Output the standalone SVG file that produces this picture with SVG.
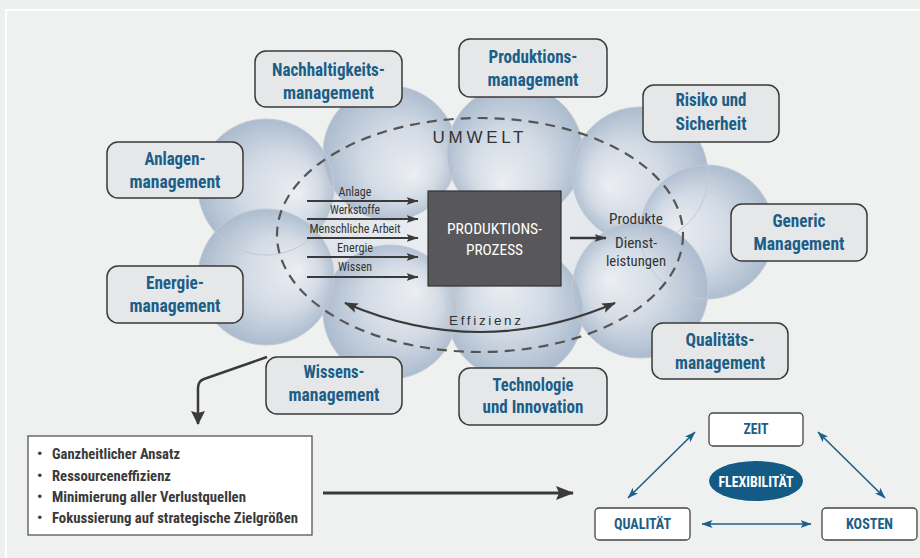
<svg xmlns="http://www.w3.org/2000/svg" width="920" height="558" viewBox="0 0 920 558">
<defs>
<style>
.f{font-family:"Liberation Sans Narrow","Roboto Condensed","DejaVu Sans Condensed","Liberation Sans",sans-serif;font-stretch:condensed}
.node rect{fill:#e6e7e9;stroke:#3a3a3a;stroke-width:1.5}
.nt{font-size:18px;font-weight:bold;fill:#1b5e87;text-anchor:middle}
.in{font-size:13px;fill:#333;text-anchor:middle}
.lst{font-size:15px;fill:#3a3a3a;font-weight:bold}
.tri{font-size:15px;font-weight:bold;fill:#1b5e87;text-anchor:middle}
.tb rect{fill:#fff;stroke:#444;stroke-width:1.3}
.cs{fill:none;stroke:#c6cad0;stroke-width:1}
.dk{stroke:#3a3a3a;fill:none}
.bl{stroke:#1d5f89;stroke-width:1.6;fill:none}
</style>
<marker id="ah" viewBox="0 0 12 8" refX="11.5" refY="4" markerWidth="12" markerHeight="8" markerUnits="userSpaceOnUse" orient="auto-start-reverse"><path d="M0,0 L12,4 L0,8 L2.5,4 z" fill="#3a3a3a"/></marker>
<marker id="ahE" viewBox="0 0 14 10" refX="13" refY="5" markerWidth="14" markerHeight="10" markerUnits="userSpaceOnUse" orient="auto-start-reverse"><path d="M0,0 L14,5 L0,10 L3,5 z" fill="#3a3a3a"/></marker>
<marker id="ahB" viewBox="0 0 18 14" refX="17" refY="7" markerWidth="18" markerHeight="14" markerUnits="userSpaceOnUse" orient="auto"><path d="M0,0 L18,7 L0,14 L3,7 z" fill="#3a3a3a"/></marker>
<marker id="ahD" viewBox="0 0 14 14" refX="13" refY="7" markerWidth="14" markerHeight="14" markerUnits="userSpaceOnUse" orient="auto"><path d="M0,0 L14,7 L0,14 L2,7 z" fill="#3a3a3a"/></marker>
<marker id="ahBl" viewBox="0 0 11 8" refX="10.5" refY="4" markerWidth="11" markerHeight="8" markerUnits="userSpaceOnUse" orient="auto-start-reverse"><path d="M0,0 L11,4 L0,8 L2.5,4 z" fill="#1d5f89"/></marker>
<radialGradient id="gc" cx="480" cy="232" r="185" gradientUnits="userSpaceOnUse"><stop offset="0" stop-color="#eff1f4"/><stop offset="1" stop-color="#dce2e9"/></radialGradient>
<radialGradient id="g1" gradientUnits="userSpaceOnUse" cx="266" cy="187" r="74" fx="299" fy="194"><stop offset="0" stop-color="#eceff3"/><stop offset="0.5" stop-color="#d3dbe5"/><stop offset="1" stop-color="#a5b7cb"/></radialGradient>
<radialGradient id="g2" gradientUnits="userSpaceOnUse" cx="390" cy="153" r="74" fx="415" fy="176"><stop offset="0" stop-color="#eceff3"/><stop offset="0.5" stop-color="#d3dbe5"/><stop offset="1" stop-color="#a5b7cb"/></radialGradient>
<radialGradient id="g3" gradientUnits="userSpaceOnUse" cx="515" cy="153" r="74" fx="501" fy="184"><stop offset="0" stop-color="#eceff3"/><stop offset="0.5" stop-color="#d3dbe5"/><stop offset="1" stop-color="#a5b7cb"/></radialGradient>
<radialGradient id="g4" gradientUnits="userSpaceOnUse" cx="640" cy="175" r="74" fx="608" fy="187"><stop offset="0" stop-color="#eceff3"/><stop offset="0.5" stop-color="#d3dbe5"/><stop offset="1" stop-color="#a5b7cb"/></radialGradient>
<radialGradient id="g5" gradientUnits="userSpaceOnUse" cx="707" cy="232" r="74" fx="673" fy="232"><stop offset="0" stop-color="#eceff3"/><stop offset="0.5" stop-color="#d3dbe5"/><stop offset="1" stop-color="#a5b7cb"/></radialGradient>
<radialGradient id="g6" gradientUnits="userSpaceOnUse" cx="640" cy="290" r="74" fx="608" fy="279"><stop offset="0" stop-color="#eceff3"/><stop offset="0.5" stop-color="#d3dbe5"/><stop offset="1" stop-color="#a5b7cb"/></radialGradient>
<radialGradient id="g7" gradientUnits="userSpaceOnUse" cx="515" cy="312" r="74" fx="501" fy="281"><stop offset="0" stop-color="#eceff3"/><stop offset="0.5" stop-color="#d3dbe5"/><stop offset="1" stop-color="#a5b7cb"/></radialGradient>
<radialGradient id="g8" gradientUnits="userSpaceOnUse" cx="390" cy="312" r="74" fx="416" fy="290"><stop offset="0" stop-color="#eceff3"/><stop offset="0.5" stop-color="#d3dbe5"/><stop offset="1" stop-color="#a5b7cb"/></radialGradient>
<radialGradient id="g9" gradientUnits="userSpaceOnUse" cx="266" cy="277" r="74" fx="299" fy="270"><stop offset="0" stop-color="#eceff3"/><stop offset="0.5" stop-color="#d3dbe5"/><stop offset="1" stop-color="#a5b7cb"/></radialGradient>
</defs>

<rect x="0" y="0" width="920" height="558" fill="#eef0ef"/>
<rect x="6" y="10" width="1000" height="1000" fill="#eff1f0" stroke="#ffffff" stroke-width="2"/>

<g id="cloud">
<ellipse cx="480" cy="232" rx="180" ry="70" fill="url(#gc)"/>
<circle cx="266" cy="187" r="68" fill="url(#g1)"/>
<circle cx="390" cy="153" r="67" fill="url(#g2)"/>
<circle cx="515" cy="153" r="68" fill="url(#g3)"/>
<circle cx="640" cy="175" r="68" fill="url(#g4)"/>
<circle cx="707" cy="232" r="67" fill="url(#g5)"/>
<circle cx="640" cy="290" r="68" fill="url(#g6)"/>
<circle cx="515" cy="312" r="68" fill="url(#g7)"/>
<circle cx="390" cy="312" r="67" fill="url(#g8)"/>
<circle cx="266" cy="277" r="68" fill="url(#g9)"/>
<circle class="cs" cx="266" cy="187" r="68"/>
<circle class="cs" cx="390" cy="153" r="67"/>
<circle class="cs" cx="515" cy="153" r="68"/>
<circle class="cs" cx="640" cy="175" r="68"/>
<circle class="cs" cx="707" cy="232" r="67"/>
<circle class="cs" cx="640" cy="290" r="68"/>
<circle class="cs" cx="515" cy="312" r="68"/>
<circle class="cs" cx="390" cy="312" r="67"/>
<circle class="cs" cx="266" cy="277" r="68"/>
</g>

<g id="umwelt">
<ellipse cx="480" cy="235" rx="203" ry="117" fill="none" stroke="#555" stroke-width="2.2" stroke-dasharray="10 7"/>
<text x="478" y="143" font-family="Liberation Sans, Arial, sans-serif" font-size="17" fill="#333" text-anchor="middle" textLength="91" lengthAdjust="spacing">UMWELT</text>
<text x="485" y="325" font-family="Liberation Sans, Arial, sans-serif" font-size="13.5" fill="#333" text-anchor="middle" textLength="72" lengthAdjust="spacing">Effizienz</text>
</g>

<g id="connectors">
<line class="dk" x1="307" y1="201" x2="418" y2="201" stroke-width="2" marker-end="url(#ah)"/>
<line class="dk" x1="307" y1="219" x2="418" y2="219" stroke-width="2" marker-end="url(#ah)"/>
<line class="dk" x1="307" y1="238" x2="418" y2="238" stroke-width="2" marker-end="url(#ah)"/>
<line class="dk" x1="307" y1="257" x2="418" y2="257" stroke-width="2" marker-end="url(#ah)"/>
<line class="dk" x1="307" y1="277" x2="418" y2="277" stroke-width="2" marker-end="url(#ah)"/>
<line class="dk" x1="570" y1="238" x2="606" y2="238" stroke-width="2.6" marker-end="url(#ah)"/>
<path class="dk" d="M345 303 Q480 361 615 303" stroke-width="2.2" marker-start="url(#ahE)" marker-end="url(#ahE)"/>
<path class="dk" d="M267 357 L204 379 Q198 381 198 388 L198 424" stroke-width="2.5" marker-end="url(#ahD)"/>
<line class="dk" x1="323" y1="493" x2="573" y2="493" stroke-width="3" marker-end="url(#ahB)"/>
<line class="bl" x1="695" y1="432" x2="628" y2="498" marker-start="url(#ahBl)" marker-end="url(#ahBl)"/>
<line class="bl" x1="818" y1="432" x2="885" y2="498" marker-start="url(#ahBl)" marker-end="url(#ahBl)"/>
<line class="bl" x1="702" y1="524" x2="811" y2="524" marker-start="url(#ahBl)" marker-end="url(#ahBl)"/>
</g>

<g id="inputs" class="f">
<text class="in" x="355" y="195.5" textLength="33" lengthAdjust="spacingAndGlyphs">Anlage</text>
<text class="in" x="355" y="213.5" textLength="50" lengthAdjust="spacingAndGlyphs">Werkstoffe</text>
<text class="in" x="355" y="232.5" textLength="91" lengthAdjust="spacingAndGlyphs">Menschliche Arbeit</text>
<text class="in" x="355" y="251.5" textLength="36" lengthAdjust="spacingAndGlyphs">Energie</text>
<text class="in" x="355" y="271" textLength="34" lengthAdjust="spacingAndGlyphs">Wissen</text>
</g>

<g id="prozess" class="f">
<rect x="428" y="191" width="133" height="95" fill="#58585a" stroke="#333" stroke-width="1.2"/>
<text x="494.5" y="234" font-size="15" fill="#fff" text-anchor="middle" textLength="95" lengthAdjust="spacingAndGlyphs">PRODUKTIONS-</text>
<text x="494.5" y="255" font-size="15" fill="#fff" text-anchor="middle" textLength="57" lengthAdjust="spacingAndGlyphs">PROZESS</text>
</g>

<g id="output" class="f" font-size="14.5" fill="#333" text-anchor="middle">
<text x="636" y="224" textLength="54" lengthAdjust="spacingAndGlyphs">Produkte</text>
<text x="636" y="248" textLength="42" lengthAdjust="spacingAndGlyphs">Dienst-</text>
<text x="636" y="266" textLength="60" lengthAdjust="spacingAndGlyphs">leistungen</text>
</g>

<g id="n-nachhaltigkeit" class="node f">
<rect x="255" y="51" width="147" height="56" rx="11"/>
<text class="nt" x="328.5" y="76" textLength="113" lengthAdjust="spacingAndGlyphs">Nachhaltigkeits-</text>
<text class="nt" x="328.5" y="99" textLength="91" lengthAdjust="spacingAndGlyphs">management</text>
</g>
<g id="n-produktion" class="node f">
<rect x="459" y="39" width="148" height="58" rx="11"/>
<text class="nt" x="533" y="63" textLength="89" lengthAdjust="spacingAndGlyphs">Produktions-</text>
<text class="nt" x="533" y="86" textLength="91" lengthAdjust="spacingAndGlyphs">management</text>
</g>
<g id="n-risiko" class="node f">
<rect x="643" y="85" width="136" height="57" rx="11"/>
<text class="nt" x="711" y="106" textLength="71" lengthAdjust="spacingAndGlyphs">Risiko und</text>
<text class="nt" x="711" y="130" textLength="71" lengthAdjust="spacingAndGlyphs">Sicherheit</text>
</g>
<g id="n-anlagen" class="node f">
<rect x="107" y="142" width="136" height="56" rx="11"/>
<text class="nt" x="175" y="165" textLength="61" lengthAdjust="spacingAndGlyphs">Anlagen-</text>
<text class="nt" x="175" y="188" textLength="91" lengthAdjust="spacingAndGlyphs">management</text>
</g>
<g id="n-generic" class="node f">
<rect x="731" y="204" width="136" height="57" rx="11"/>
<text class="nt" x="799" y="227" textLength="53" lengthAdjust="spacingAndGlyphs">Generic</text>
<text class="nt" x="799" y="250" textLength="91" lengthAdjust="spacingAndGlyphs">Management</text>
</g>
<g id="n-energie" class="node f">
<rect x="107" y="266" width="136" height="57" rx="11"/>
<text class="nt" x="175" y="289" textLength="58" lengthAdjust="spacingAndGlyphs">Energie-</text>
<text class="nt" x="175" y="312" textLength="91" lengthAdjust="spacingAndGlyphs">management</text>
</g>
<g id="n-wissen" class="node f">
<rect x="266" y="357" width="136" height="57" rx="11"/>
<text class="nt" x="334" y="378" textLength="61" lengthAdjust="spacingAndGlyphs">Wissens-</text>
<text class="nt" x="334" y="401" textLength="91" lengthAdjust="spacingAndGlyphs">management</text>
</g>
<g id="n-qualitaet" class="node f">
<rect x="652" y="323" width="136" height="56" rx="11"/>
<text class="nt" x="720" y="346" textLength="69" lengthAdjust="spacingAndGlyphs">Qualitäts-</text>
<text class="nt" x="720" y="369" textLength="90" lengthAdjust="spacingAndGlyphs">management</text>
</g>
<g id="n-technologie" class="node f">
<rect x="459" y="368" width="148" height="57" rx="11"/>
<text class="nt" x="533" y="391" textLength="81" lengthAdjust="spacingAndGlyphs">Technologie</text>
<text class="nt" x="533" y="413" textLength="101" lengthAdjust="spacingAndGlyphs">und Innovation</text>
</g>

<g id="liste" class="f">
<rect x="28" y="436" width="284" height="99" fill="#fff" stroke="#555" stroke-width="1.3"/>
<text class="lst" x="37" y="459">•</text>
<text class="lst" x="52" y="459" textLength="128" lengthAdjust="spacingAndGlyphs">Ganzheitlicher Ansatz</text>
<text class="lst" x="37" y="481">•</text>
<text class="lst" x="52" y="481" textLength="119" lengthAdjust="spacingAndGlyphs">Ressourceneffizienz</text>
<text class="lst" x="37" y="502">•</text>
<text class="lst" x="52" y="502" textLength="194" lengthAdjust="spacingAndGlyphs">Minimierung aller Verlustquellen</text>
<text class="lst" x="37" y="523">•</text>
<text class="lst" x="52" y="523" textLength="246" lengthAdjust="spacingAndGlyphs">Fokussierung auf strategische Zielgrößen</text>
</g>

<g id="t-zeit" class="tb f">
<rect x="709" y="413" width="94" height="33" rx="4"/>
<text class="tri" x="756" y="434" textLength="25" lengthAdjust="spacingAndGlyphs">ZEIT</text>
</g>
<g id="t-qualitaet" class="tb f">
<rect x="595" y="508" width="95" height="32" rx="4"/>
<text class="tri" x="642.5" y="529" textLength="57" lengthAdjust="spacingAndGlyphs">QUALITÄT</text>
</g>
<g id="t-kosten" class="tb f">
<rect x="822" y="508" width="95" height="32" rx="4"/>
<text class="tri" x="869.5" y="529" textLength="47" lengthAdjust="spacingAndGlyphs">KOSTEN</text>
</g>
<g id="t-flex" class="f">
<ellipse cx="756" cy="481" rx="47" ry="20" fill="#135b84"/>
<text x="756" y="487" font-size="15" font-weight="bold" fill="#fff" text-anchor="middle" textLength="75" lengthAdjust="spacingAndGlyphs">FLEXIBILITÄT</text>
</g>
</svg>
